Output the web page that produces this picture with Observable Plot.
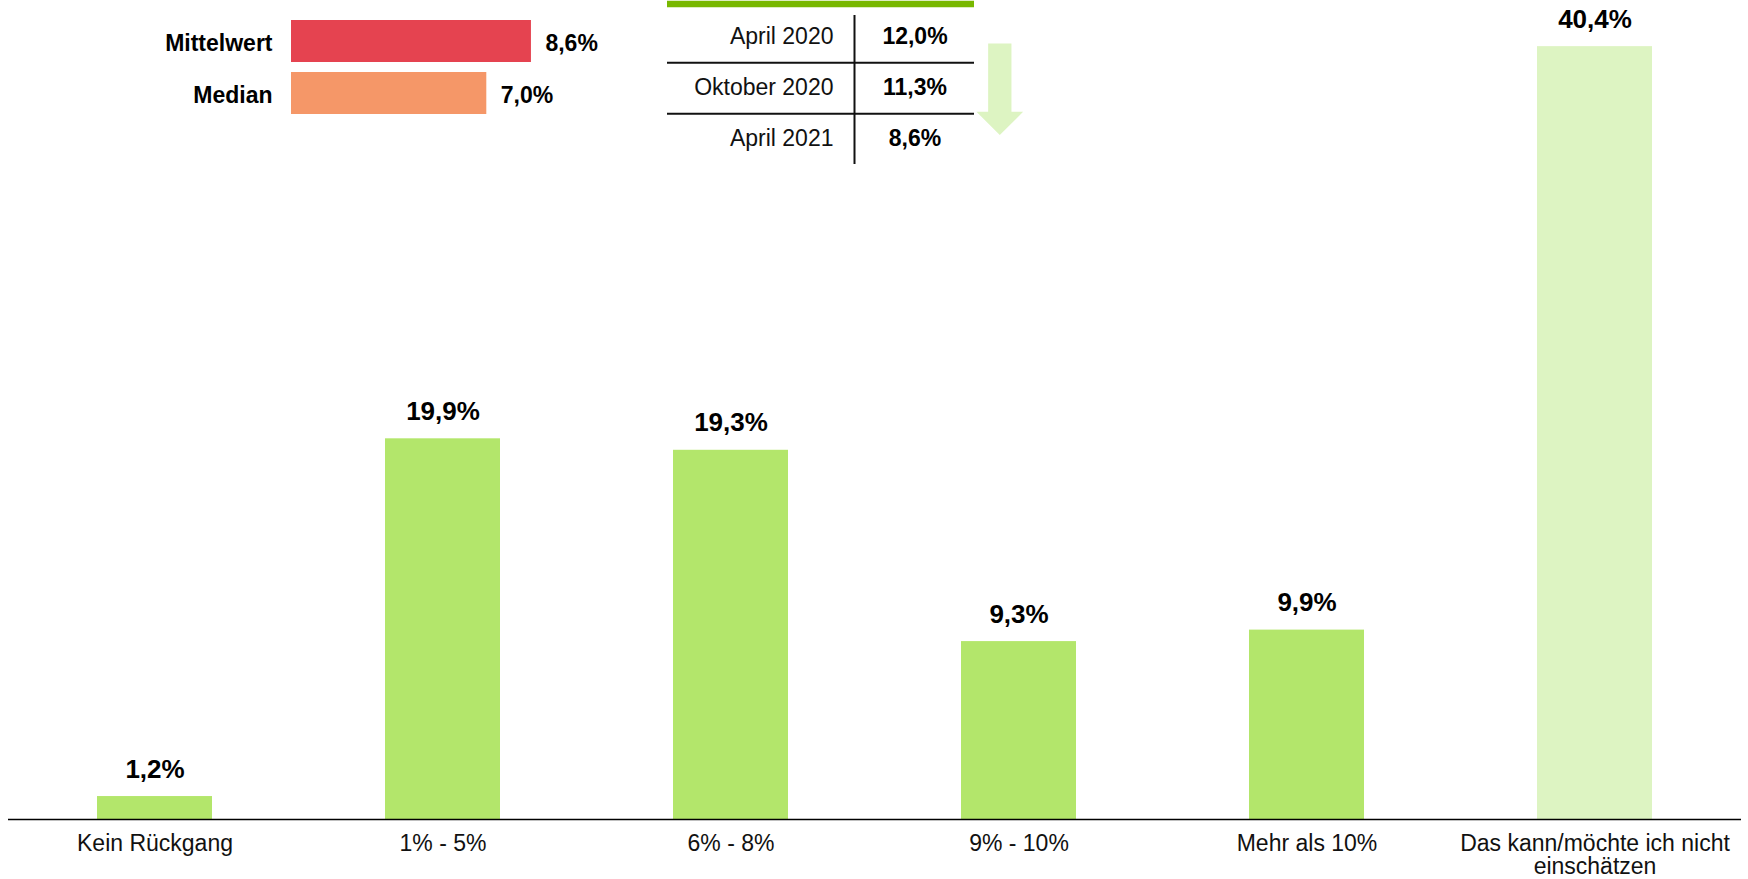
<!DOCTYPE html>
<html><head><meta charset="utf-8">
<script src="https://cdn.jsdelivr.net/npm/d3@7"></script>
<script src="https://cdn.jsdelivr.net/npm/@observablehq/plot@0.6"></script>
<style>
html,body{margin:0;padding:0;background:#fff;}
#wrap{position:relative;width:1748px;height:879px;overflow:hidden;}
#wrap > svg{position:absolute;left:0;top:0;}
</style></head><body><div id="wrap"></div>
<script>
// ---- data ----
const categories = ["Kein Rückgang", "1% - 5%", "6% - 8%", "9% - 10%", "Mehr als 10%", "Das kann/möchte ich nicht\neinschätzen"];
const shares = [1.2, 19.9, 19.3, 9.3, 9.9, 40.4];
const shareLabels = ["1,2%", "19,9%", "19,3%", "9,3%", "9,9%", "40,4%"];
const statNames = ["Mittelwert", "Median"];
const statValues = [8.6, 7.0];
const statLabels = ["8,6%", "7,0%"];
const periods = ["April 2020", "Oktober 2020", "April 2021"];
const periodLabels = ["12,0%", "11,3%", "8,6%"];

const FONT = '"Liberation Sans", Arial, sans-serif';
const GREEN = "#B3E66B", LIGHT = "#DDF4C2", RED = "#E54350", ORANGE = "#F59768", HEAD = "#78B800";

const rows = categories.map((c, i) => ({cat: c, v: shares[i], label: shareLabels[i], fill: i === 5 ? LIGHT : GREEN}));
const stats = statNames.map((n, i) => ({name: n, v: statValues[i], label: statLabels[i], fill: i === 0 ? RED : ORANGE}));
const trend = periods.map((p, i) => ({period: p, label: periodLabels[i]}));

const wrap = document.getElementById("wrap");

// ---- main bar chart ----
const main = Plot.plot({
  width: 1748, height: 879,
  marginLeft: 8, marginRight: 7, marginTop: 0, marginBottom: 60,
  style: {fontFamily: FONT, background: "transparent"},
  x: {type: "band", domain: categories, paddingInner: 0.6, paddingOuter: 0.3, axis: null},
  y: {domain: [0, 819 / 19.13], axis: null},
  color: {type: "identity"},
  marks: [
    Plot.barY(rows, {x: "cat", y: "v", fill: "fill"}),
    Plot.ruleY([0], {stroke: "#000", strokeWidth: 1.5}),
    Plot.text(rows, {x: "cat", y: "v", text: "label", dy: -19, lineAnchor: "bottom", fontSize: 26, fontWeight: "bold", fill: "#000"}),
    Plot.text(rows, {x: "cat", y: () => 0, text: "cat", dy: 15, lineAnchor: "top", fontSize: 23, lineHeight: 1.0, fill: "#111"})
  ]
});
wrap.appendChild(main);

// ---- Mittelwert / Median legend bars ----
const legend = Plot.plot({
  width: 640, height: 135,
  marginLeft: 291, marginRight: 0, marginTop: 20, marginBottom: 20.2,
  style: {fontFamily: FONT, background: "transparent"},
  x: {domain: [0, 349 / 27.9], axis: null},
  y: {type: "band", domain: statNames, paddingInner: 0.19, paddingOuter: 0, axis: null},
  color: {type: "identity"},
  marks: [
    Plot.barX(stats, {y: "name", x: "v", fill: "fill"}),
    Plot.text(stats, {y: "name", x: () => 0, text: "name", dx: -19, dy: 2, textAnchor: "end", fontWeight: "bold", fontSize: 23, fill: "#000"}),
    Plot.text(stats, {y: "name", x: "v", text: "label", dx: 14, dy: 2, textAnchor: "start", fontWeight: "bold", fontSize: 23, fill: "#000"})
  ]
});
wrap.appendChild(legend);

// ---- trend table ----
const table = Plot.plot({
  width: 1748, height: 180,
  marginLeft: 667, marginRight: 774, marginTop: 3.25, marginBottom: 15,
  style: {fontFamily: FONT, background: "transparent"},
  x: {domain: [0, 307], axis: null},
  y: {type: "band", domain: periods, range: [10.5, 165], padding: 0, axis: null},
  marks: [
    Plot.ruleY([periods[0]], {dy: -33, stroke: HEAD, strokeWidth: 6.5}),
    Plot.ruleY(periods.slice(0, -1), {dy: 25.75, stroke: "#111", strokeWidth: 2}),
    Plot.ruleX([187], {stroke: "#111", strokeWidth: 2, insetTop: 11.75, insetBottom: 1}),
    Plot.text(trend, {y: "period", x: () => 166, text: "period", textAnchor: "end", fontSize: 23, fill: "#111"}),
    Plot.text(trend, {y: "period", x: () => 247.5, text: "label", textAnchor: "middle", fontSize: 23, fontWeight: "bold", fill: "#000"}),
    Plot.vector([trend[0]], {
      y: "period", x: () => 332.3, dy: 6.45, rotate: 180, length: 91.6, anchor: "start",
      fill: LIGHT, stroke: "none",
      shape: {
        draw(context, l) {
          const hw = 23.35, sw = 11.65, hl = 23.3;
          context.moveTo(-sw, 0);
          context.lineTo(-sw, -(l - hl));
          context.lineTo(-hw, -(l - hl));
          context.lineTo(0, -l);
          context.lineTo(hw, -(l - hl));
          context.lineTo(sw, -(l - hl));
          context.lineTo(sw, 0);
          context.closePath();
        }
      }
    })
  ]
});
wrap.appendChild(table);
</script>
</body></html>
